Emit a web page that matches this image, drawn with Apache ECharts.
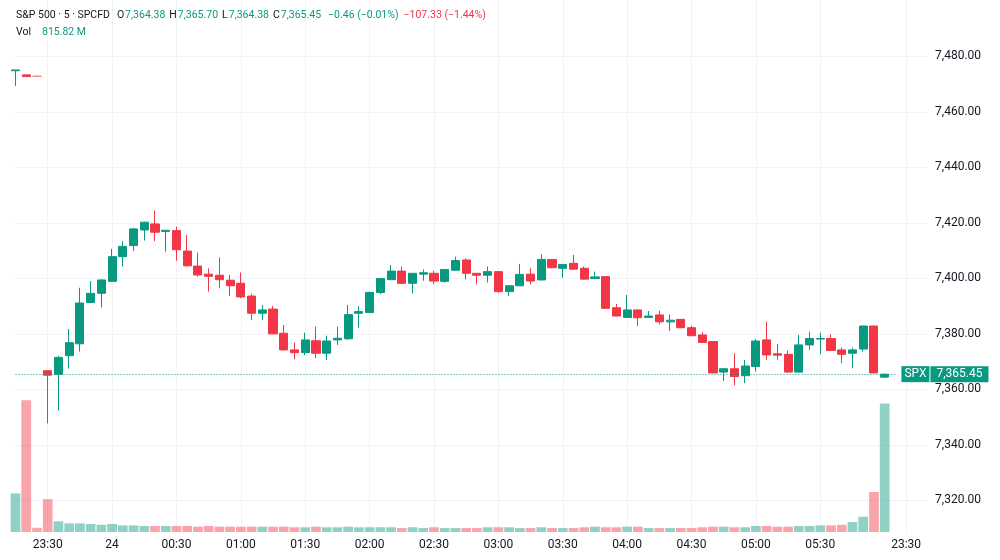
<!DOCTYPE html>
<html>
<head>
<meta charset="utf-8">
<script src="https://cdn.jsdelivr.net/npm/echarts@6/dist/echarts.min.js"></script>
<style>
  html, body { margin: 0; padding: 0; background: #fff; }
  #chart { width: 1000px; height: 560px; }
</style>
</head>
<body>
<div id="chart"></div>
<script>
// 5 min bars, S&P 500 CFD
const symbolName = "S&P 500 · 5 · SPCFD";
const tickerName = "SPX";

const times = [
  "05:45", "05:50", "05:55",
  "23:30", "23:35", "23:40", "23:45", "23:50", "23:55",
  "00:00", "00:05", "00:10", "00:15", "00:20", "00:25",
  "00:30", "00:35", "00:40", "00:45", "00:50", "00:55",
  "01:00", "01:05", "01:10", "01:15", "01:20", "01:25",
  "01:30", "01:35", "01:40", "01:45", "01:50", "01:55",
  "02:00", "02:05", "02:10", "02:15", "02:20", "02:25",
  "02:30", "02:35", "02:40", "02:45", "02:50", "02:55",
  "03:00", "03:05", "03:10", "03:15", "03:20", "03:25",
  "03:30", "03:35", "03:40", "03:45", "03:50", "03:55",
  "04:00", "04:05", "04:10", "04:15", "04:20", "04:25",
  "04:30", "04:35", "04:40", "04:45", "04:50", "04:55",
  "05:00", "05:05", "05:10", "05:15", "05:20", "05:25",
  "05:30", "05:35", "05:40", "05:45", "05:50", "05:55",
  "06:00", "23:25", "23:30", "23:35", "23:40"
];
const labelTimes = ["23:30", "00:00", "00:30", "01:00", "01:30", "02:00", "02:30",
  "03:00", "03:30", "04:00", "04:30", "05:00", "05:30"];

const opens = [7474.8, 7473.3, 7472.9, 7366.7, 7365.4, 7372.1, 7376.4, 7391.3, 7394.6, 7398.9,
  7407.8, 7411.8, 7417.4, 7419.6, 7416.9, 7417.2, 7409.8, 7404.4, 7401.5, 7401.1,
  7399.3, 7398.2, 7393.6, 7387.4, 7388.9, 7380.2, 7374.2, 7373.2, 7377.5, 7373.0,
  7377.8, 7378.2, 7387.4, 7387.7, 7394.9, 7399.5, 7402.6, 7398.2, 7401.5, 7401.8,
  7398.9, 7402.9, 7406.6, 7401.8, 7401.1, 7402.4, 7395.2, 7397.3, 7401.5, 7399.4,
  7406.8, 7403.6, 7405.4, 7403.6, 7399.9, 7400.6, 7389.4, 7385.9, 7388.6, 7385.9,
  7386.8, 7384.3, 7385.2, 7382.2, 7379.6, 7377.2, 7366.2, 7367.4, 7364.9, 7368.2,
  7377.8, 7372.8, 7372.6, 7366.2, 7376.0, 7378.1, 7378.3, 7374.2, 7373.0, 7374.5,
  7382.8, 7364.38];
const highs = [7475.1, 7473.3, 7472.9, 7366.7, 7372.0, 7381.7, 7396.6, 7399.0, 7399.6, 7410.6,
  7413.4, 7418.2, 7420.4, 7424.4, 7417.4, 7418.6, 7415.6, 7409.3, 7403.6, 7407.5,
  7401.2, 7402.1, 7394.5, 7390.4, 7390.0, 7383.2, 7376.8, 7380.4, 7382.6, 7379.3,
  7382.6, 7390.4, 7390.0, 7395.2, 7400.1, 7404.8, 7404.2, 7401.9, 7403.2, 7402.7,
  7403.3, 7407.8, 7407.2, 7401.9, 7404.2, 7402.5, 7397.4, 7405.2, 7403.6, 7408.6,
  7406.9, 7405.1, 7408.4, 7404.2, 7402.4, 7400.7, 7390.7, 7394.0, 7388.7, 7388.2,
  7388.3, 7387.0, 7385.3, 7382.9, 7380.5, 7377.3, 7367.5, 7373.0, 7370.6, 7378.1,
  7384.4, 7376.3, 7373.9, 7379.6, 7380.8, 7380.4, 7379.8, 7375.0, 7375.0, 7382.9,
  7382.9, 7365.70];
const lows = [7469.3, 7472.7, 7472.6, 7347.7, 7352.3, 7367.5, 7373.6, 7391.0, 7389.5, 7398.7,
  7404.2, 7409.8, 7413.6, 7413.4, 7409.6, 7406.3, 7404.2, 7400.6, 7395.2, 7396.4,
  7393.7, 7392.8, 7384.9, 7384.9, 7379.8, 7373.9, 7370.8, 7372.3, 7371.2, 7370.5,
  7376.0, 7377.8, 7382.2, 7387.6, 7394.3, 7399.4, 7397.8, 7394.6, 7399.1, 7397.8,
  7398.4, 7402.8, 7399.6, 7397.8, 7398.5, 7394.8, 7393.6, 7397.2, 7397.8, 7399.3,
  7403.6, 7400.2, 7403.2, 7399.6, 7399.8, 7389.1, 7386.3, 7385.8, 7382.8, 7385.8,
  7383.4, 7381.0, 7382.0, 7379.2, 7376.8, 7365.8, 7363.0, 7361.5, 7362.2, 7366.4,
  7370.6, 7370.6, 7366.1, 7366.1, 7374.2, 7372.6, 7373.9, 7369.4, 7367.6, 7373.6,
  7365.8, 7364.38];
const closes = [7475.1, 7472.7, 7472.78, 7365.1, 7371.5, 7376.8, 7391.1, 7394.6, 7399.4, 7407.8,
  7411.5, 7417.8, 7420.2, 7416.6, 7417.3, 7410.3, 7404.5, 7401.2, 7400.7, 7399.5,
  7397.3, 7393.3, 7387.4, 7388.6, 7380.0, 7374.2, 7373.2, 7377.8, 7373.0, 7377.4,
  7378.4, 7386.9, 7388.0, 7394.9, 7399.9, 7402.6, 7398.2, 7401.8, 7402.0, 7399.0,
  7403.2, 7406.4, 7401.8, 7401.1, 7402.4, 7395.2, 7397.3, 7401.4, 7399.0, 7406.8,
  7403.8, 7405.0, 7403.3, 7399.7, 7400.5, 7389.2, 7386.4, 7388.6, 7385.8, 7386.4,
  7384.3, 7384.9, 7382.2, 7379.3, 7376.9, 7365.9, 7367.4, 7364.6, 7368.4, 7377.4,
  7372.4, 7372.3, 7366.2, 7376.0, 7378.3, 7378.3, 7374.0, 7372.6, 7374.2, 7382.8,
  7365.91, 7365.45];
// volume in millions
const volumes = [245, 837, 27, 209, 68, 55, 55, 51, 46, 51,
  42, 42, 38, 38, 38, 38, 38, 34, 38, 34,
  34, 34, 34, 34, 34, 34, 30, 30, 34, 30,
  30, 34, 30, 30, 30, 30, 25, 30, 25, 30,
  25, 25, 25, 25, 30, 30, 30, 25, 25, 30,
  25, 25, 25, 30, 34, 30, 30, 34, 34, 25,
  25, 25, 25, 25, 30, 34, 34, 30, 30, 38,
  38, 34, 34, 38, 38, 42, 42, 46, 63, 97,
  254, 815.82];
const prevSessionBars = [2]; // drawn faded
const prevSessionClose = closes[2];

const upColor = "#089981";
const downColor = "#f23645";
const textColor = "#131722";
const gridColor = "#f0f3fa";

let fmt = (v) => v.toLocaleString("en-US", { minimumFractionDigits: 2, maximumFractionDigits: 2 });
let signed = (v) => (v < 0 ? "\u2212" : "+") + fmt(Math.abs(v));

let n = closes.length - 1;
let lastClose = closes[n];
let chg = lastClose - closes[n - 1];
let chgPct = (chg / closes[n - 1]) * 100;
let dayChg = lastClose - prevSessionClose;
let dayPct = (dayChg / prevSessionClose) * 100;

let candleData = opens.map((o, i) => {
  let item = { value: [o, closes[i], lows[i], highs[i]] };
  if (prevSessionBars.includes(i)) {
    item.itemStyle = {
      color0: "rgba(242, 54, 69, 0.45)",
      borderColor0: "rgba(242, 54, 69, 0.45)"
    };
  }
  return item;
});
let volumeData = volumes.map((v, i) => ({
  value: v,
  itemStyle: {
    color: closes[i] >= opens[i] ? "rgba(8, 153, 129, 0.45)" : "rgba(242, 54, 69, 0.45)"
  }
}));

let headerText =
  "{n|" + symbolName + "}" +
  "{k|O}{g|" + fmt(opens[n]) + "}" +
  "{k|H}{g|" + fmt(highs[n]) + "}" +
  "{k|L}{g|" + fmt(lows[n]) + "}" +
  "{k|C}{g|" + fmt(lastClose) + "}" +
  "{c|" + signed(chg) + " (" + signed(chgPct) + "%)}" +
  "{r|" + signed(dayChg) + " (" + signed(dayPct) + "%)}" +
  "\n{v|Vol}{g|" + fmt(volumes[n]) + " M}";

let myChart = echarts.init(document.getElementById("chart"));
let option = {
  animation: false,
  backgroundColor: "#fff",
  textStyle: { fontFamily: "Roboto, sans-serif" },
  title: {
    left: 16,
    top: 7,
    padding: 0,
    text: headerText,
    textStyle: {
      fontSize: 10.5,
      fontWeight: "normal",
      lineHeight: 17,
      rich: {
        n: { color: textColor, fontSize: 10.5, padding: [0, 7, 0, 0] },
        k: { color: textColor, fontSize: 10.5, padding: [0, 1, 0, 0] },
        g: { color: upColor, fontSize: 10.5, padding: [0, 4, 0, 0] },
        c: { color: upColor, fontSize: 10.5, padding: [0, 5, 0, 3] },
        r: { color: downColor, fontSize: 10.5 },
        v: { color: textColor, fontSize: 10.5, padding: [0, 11, 0, 0] }
      }
    }
  },
  grid: [
    { left: 15.5, right: 72.4, top: 0.8, height: 555 },
    { left: 15.5, right: 72.4, top: 0, height: 532 }
  ],
  xAxis: [
    {
      type: "category",
      gridIndex: 0,
      data: times,
      boundaryGap: false,
      show: false
    },
    {
      type: "category",
      gridIndex: 1,
      data: times,
      boundaryGap: false,
      axisLine: { show: false },
      axisTick: { show: false },
      axisLabel: {
        color: textColor,
        fontSize: 12,
        margin: 7,
        interval: (i, v) => labelTimes.includes(v),
        formatter: (v) => (v === "00:00" ? "24" : v)
      },
      splitLine: {
        show: true,
        interval: (i, v) => labelTimes.includes(v),
        lineStyle: { color: gridColor, width: 1 }
      }
    }
  ],
  yAxis: [
    {
      type: "value",
      gridIndex: 0,
      position: "right",
      min: 7300,
      max: 7500,
      interval: 20,
      axisLine: { show: false },
      axisTick: { show: false },
      axisLabel: {
        color: textColor,
        fontSize: 12,
        margin: 7.5,
        showMinLabel: false,
        showMaxLabel: false,
        formatter: (v) => fmt(v)
      },
      splitLine: {
        show: true,
        showMinLine: false,
        showMaxLine: false,
        lineStyle: { color: gridColor, width: 1 }
      }
    },
    {
      type: "value",
      gridIndex: 1,
      min: 0,
      max: 3380,
      show: false,
      splitLine: { show: false }
    }
  ],
  series: [
    {
      name: "Vol",
      type: "bar",
      xAxisIndex: 1,
      yAxisIndex: 1,
      barWidth: 9.7,
      clip: false,
      z: 1,
      data: volumeData
    },
    {
      name: tickerName,
      type: "candlestick",
      xAxisIndex: 0,
      yAxisIndex: 0,
      barWidth: 8.6,
      clip: false,
      z: 3,
      itemStyle: {
        color: upColor,
        color0: downColor,
        borderColor: upColor,
        borderColor0: downColor,
        borderWidth: 1
      },
      markLine: {
        silent: true,
        symbol: ["none", "none"],
        lineStyle: { color: upColor, type: [1, 2], width: 1 },
        label: {
          show: true,
          position: "end",
          distance: 6,
          formatter: () => "{s|" + tickerName + "}{d| }{p|" + fmt(lastClose) + "}",
          rich: {
            s: { color: "#fff", backgroundColor: upColor, fontSize: 12, lineHeight: 12, padding: [2, 3, 2, 3] },
            d: { width: 1 },
            p: { color: "#fff", backgroundColor: upColor, fontSize: 12, lineHeight: 12, padding: [2, 6, 2, 6] }
          }
        },
        data: [[{ coord: [0, lastClose] }, { coord: [82, lastClose] }]]
      },
      data: candleData
    }
  ]
};
myChart.setOption(option, true);

window.addEventListener("resize", () => {
  myChart.resize();
});
</script>
</body>
</html>
